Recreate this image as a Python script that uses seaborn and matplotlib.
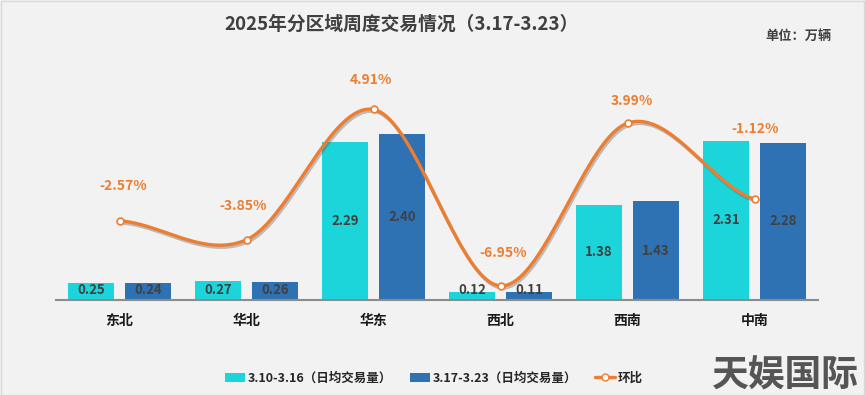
import numpy as np
import pandas as pd
import matplotlib
matplotlib.use("Agg")
import matplotlib.pyplot as plt
import matplotlib.patheffects as pe
from matplotlib.patches import Patch
from matplotlib.lines import Line2D
import seaborn as sns

# ---------------- data ----------------
regions = ["东北", "华北", "华东", "西北", "西南", "中南"]
series_names = ["3.10-3.16（日均交易量）", "3.17-3.23（日均交易量）"]
prev_week = [0.25, 0.27, 2.29, 0.12, 1.38, 2.31]
this_week = [0.24, 0.26, 2.40, 0.11, 1.43, 2.28]
wow_pct = [-2.57, -3.85, 4.91, -6.95, 3.99, -1.12]
line_name = "环比"
title = "2025年分区域周度交易情况（3.17-3.23）"
unit_text = "单位：万辆"
watermark = "天娱国际"

# ---------------- style ----------------
sns.set_theme(style="white")
plt.rcParams["font.family"] = ["Noto Sans CJK SC", "DejaVu Sans"]
BG = "#F2F2F2"
C1 = "#1BD5DA"
C2 = "#2E72B4"
ORANGE = "#ED7D31"
TXT = "#404040"

# per-label pixel offsets for percentage labels (layout only)
pct_label_dx = [4, -3, -3, 3, 4, 1]
pct_label_dy = [35, 34, 29, 33, 22, 70]

df = pd.DataFrame({
    "region": regions * 2,
    "series": [series_names[0]] * len(regions) + [series_names[1]] * len(regions),
    "value": prev_week + this_week,
})

fig = plt.figure(figsize=(8.65, 3.95), dpi=100, facecolor=BG)
W, H = 865, 395
ax = fig.add_axes([56 / W, (H - 300) / H, (818 - 56) / W, (300 - 62) / H])
ax.set_facecolor("none")

sns.barplot(data=df, x="region", y="value", hue="series", order=regions,
            hue_order=series_names, palette=[C1, C2], width=0.9, gap=0.19,
            legend=False, ax=ax, saturation=1, edgecolor="none")
ax.set_ylim(0, 3.45)
ax.set_xlim(-0.5, len(regions) - 0.5)
ax.set_xlabel("")
ax.set_ylabel("")
ax.set_yticks([])
for s in ["left", "right", "top"]:
    ax.spines[s].set_visible(False)
ax.spines["bottom"].set_color("#8C8C8C")
ax.spines["bottom"].set_linewidth(1.5)
ax.tick_params(axis="x", length=0, pad=10)
for lab in ax.get_xticklabels():
    lab.set_fontweight("bold")
    lab.set_fontsize(10)
    lab.set_color("#1A1A1A")

# bar value labels
for cont in ax.containers:
    for bar in cont:
        v = bar.get_height()
        xc = bar.get_x() + bar.get_width() / 2
        ax.text(xc, max(v / 2, 0.15), f"{v:.2f}", ha="center", va="center",
                fontsize=9.5, fontweight="bold", color=TXT, zorder=5)

# secondary axis for week-over-week line
ax2 = ax.twinx()
ax2.set_ylim(-7.9, 8.1)
ax2.set_yticks([])
for s in ax2.spines.values():
    s.set_visible(False)

xs = np.arange(len(regions), dtype=float)
ys = np.array(wow_pct, dtype=float)
# Catmull-Rom style smoothing through the data points
tang = np.zeros_like(ys)
tang[1:-1] = (ys[2:] - ys[:-2]) / 2
tang[0] = (ys[1] - ys[0]) / 2
tang[-1] = (ys[-1] - ys[-2]) / 2
cx, cy = [], []
for i in range(len(xs) - 1):
    t = np.linspace(0, 1, 40)
    h00 = 2 * t**3 - 3 * t**2 + 1
    h10 = t**3 - 2 * t**2 + t
    h01 = -2 * t**3 + 3 * t**2
    h11 = t**3 - t**2
    cx.extend(xs[i] + t)
    cy.extend(h00 * ys[i] + h10 * tang[i] + h01 * ys[i + 1] + h11 * tang[i + 1])
ax2.plot(cx, cy, color=ORANGE, lw=2.4, solid_capstyle="round", zorder=6,
         path_effects=[pe.SimpleLineShadow(offset=(1, -1.5), shadow_color="#555555", alpha=0.35),
                       pe.Normal()])
sns.scatterplot(x=xs, y=ys, ax=ax2, s=24, color="white", edgecolor=ORANGE,
                linewidth=1.2, zorder=7, legend=False)
for i, v in enumerate(wow_pct):
    ax2.annotate(f"{v:.2f}%", (xs[i], ys[i]), xytext=(pct_label_dx[i], pct_label_dy[i]),
                 textcoords="offset pixels", ha="center", va="center",
                 fontsize=10, fontweight="bold", color=ORANGE)

# titles
fig.text(402 / W, 1 - 24 / H, title, ha="center", va="center",
         fontsize=13.5, fontweight="bold", color=TXT)
fig.text(798 / W, 1 - 36 / H, unit_text, ha="center", va="center",
         fontsize=9.5, fontweight="bold", color=TXT)

# legend
handles = [
    Patch(facecolor=C1, edgecolor="none"),
    Patch(facecolor=C2, edgecolor="none"),
    Line2D([0], [0], color=ORANGE, lw=2.4, marker="o", markersize=5,
           markerfacecolor="white", markeredgecolor=ORANGE),
]
leg = fig.legend(handles, series_names + [line_name], loc="center",
                 bbox_to_anchor=(434 / W, 1 - 378 / H), ncol=3, frameon=False,
                 handlelength=1.6, handleheight=0.7, columnspacing=1.45,
                 handletextpad=0.2, prop={"size": 9, "weight": "bold"})
for t in leg.get_texts():
    t.set_color("#262626")

# watermark
fig.text(785 / W, 1 - 376 / H, watermark, ha="center", va="center",
         fontsize=26.5, fontweight="heavy", color="#555555")

# thin frame
fig.patches.append(plt.Rectangle((0.001, 0.001), 0.998, 0.997, transform=fig.transFigure,
                                 fill=False, edgecolor="#D9D9D9", lw=1))

fig.savefig("out.png", dpi=100, facecolor=BG)
